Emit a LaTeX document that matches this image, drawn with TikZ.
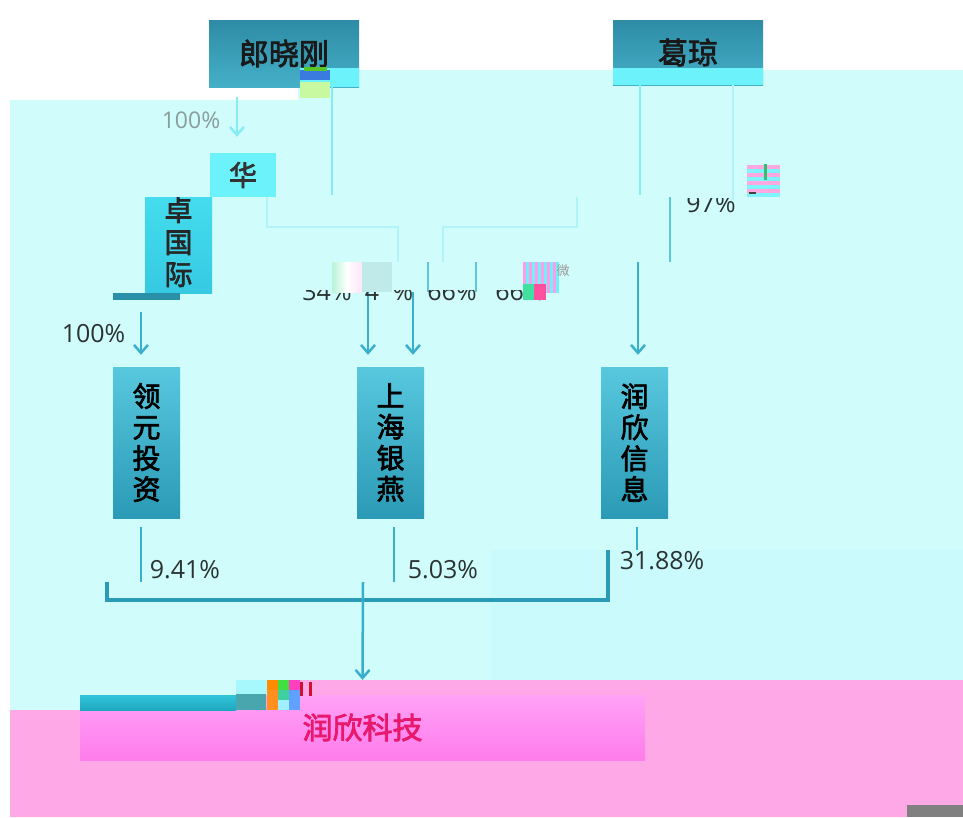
\documentclass[tikz,border=0pt]{standalone}
\usepackage{fontspec}
\newfontfamily\cjk[FakeBold=2.5]{Noto Sans CJK SC}
\newfontfamily\cjkr{Noto Sans CJK SC}
\newfontfamily\labf{Open Sans}
\usetikzlibrary{arrows.meta}
\definecolor{cyanbg}{HTML}{D0FCFC}
\definecolor{cyanbgb}{HTML}{CAFAFC}
\definecolor{pinkbg}{HTML}{FFA8E8}
\definecolor{teal1}{HTML}{3AAFCB}
\definecolor{teal2}{HTML}{2A9AB6}
\definecolor{tealmid}{HTML}{5CC8DE}
\definecolor{lightln}{HTML}{86ECF6}
\definecolor{paleln}{HTML}{B2F3F8}
\definecolor{brcyan}{HTML}{6CF2FA}
\definecolor{labgray}{HTML}{2A3232}
\definecolor{toptop}{HTML}{2E8BA5}
\definecolor{topbot}{HTML}{45B0C8}
\definecolor{vtop}{HTML}{58C8DF}
\definecolor{vbot}{HTML}{2A9AB6}
\definecolor{gblue}{HTML}{3A7BE0}
\definecolor{ggreen}{HTML}{58C828}
\definecolor{gpale}{HTML}{C8F8A0}
\definecolor{ztop}{HTML}{44DCEE}
\definecolor{zbot}{HTML}{36CAE2}
\definecolor{zbar}{HTML}{2A8FA8}
\definecolor{ktop}{HTML}{FFA2F6}
\definecolor{kbot}{HTML}{FF7CEC}
\definecolor{ktext}{HTML}{E8186C}
\definecolor{btop}{HTML}{30C4DA}
\definecolor{bbot}{HTML}{1FA8C0}
\definecolor{gc1}{HTML}{A6F8FC}
\definecolor{gc2}{HTML}{4AA6AE}
\definecolor{r1}{HTML}{FF8C00}
\definecolor{r2}{HTML}{40E040}
\definecolor{r3}{HTML}{FF40C0}
\definecolor{r4}{HTML}{FF9020}
\definecolor{r5}{HTML}{40D0A0}
\definecolor{r6}{HTML}{60A0FF}
\definecolor{r7}{HTML}{A0F0FF}
\definecolor{rred}{HTML}{D01030}
\definecolor{lgray}{HTML}{8A9C9C}
\definecolor{ga}{HTML}{B8F4D8}
\definecolor{gb}{HTML}{FFE4F6}
\definecolor{gcc}{HTML}{C0EAEA}
\definecolor{spk}{HTML}{FF9CE8}
\definecolor{scy}{HTML}{70F0F8}
\definecolor{sgr}{HTML}{40E0A0}
\definecolor{smg}{HTML}{FF50A0}
\definecolor{tpk}{HTML}{FFA8E0}
\definecolor{tcy}{HTML}{80F4FA}
\definecolor{tgr}{HTML}{30C070}
\definecolor{tdk}{HTML}{404040}
\begin{document}
\begin{tikzpicture}[x=1pt,y=-1pt,
  toph/.style={rectangle, inner sep=0pt, minimum width=150pt, minimum height=67pt,
    top color=toptop, bottom color=topbot, font=\cjk\fontsize{30}{30}\selectfont, text=black!90},
  vbox/.style={rectangle, inner sep=0pt, minimum width=67pt, minimum height=151pt,
    top color=vtop, bottom color=vbot, font=\cjk\fontsize{28}{31}\selectfont, align=center, text=black},
  pct/.style={font=\labf\fontsize{25}{25}\selectfont, text=labgray, inner sep=0pt},
  ln/.style={draw=teal1, line width=2.5pt},
  lt/.style={draw=lightln, line width=2.5pt},
  pl/.style={draw=paleln, line width=2.5pt},
  md/.style={draw=tealmid, line width=2.5pt},
  brk/.style={draw=teal2, line width=4pt},
  arr/.style={-{Straight Barb[length=8pt,width=14pt]}}]
\useasboundingbox (0,0) rectangle (963,817);
% background regions
\fill[white] (0,0) rectangle (963,817);
\fill[cyanbg] (10,100) rectangle (963,710);
\fill[cyanbg] (298,70) rectangle (963,100);
\fill[cyanbgb] (490,550) rectangle (963,680);
\fill[pinkbg] (300,680) rectangle (963,817);
\fill[pinkbg] (10,710) rectangle (963,817);
\fill[black!50] (907,805) rectangle (963,817);

% top person boxes
\node[toph] (lang) at (284,53.5) {郎晓刚};
\fill[brcyan] (300,68) rectangle (359,87);
\fill[gblue] (300,70) rectangle (330,80);
\fill[ggreen] (304,67) rectangle (327,71);
\fill[gpale] (300,82) rectangle (330,98);
\node[toph, minimum height=65pt] (ge) at (688,52.5) {葛琼};
\fill[brcyan] (613,68) rectangle (763,85);

% intermediate holding
\node[rectangle, fill=brcyan, minimum width=66pt, minimum height=44pt, inner sep=0pt,
  font=\cjk\fontsize{28}{28}\selectfont, text=black!80] (hua) at (243,175) {\raisebox{-7pt}{华}};
\node[rectangle, top color=ztop, bottom color=zbot, minimum width=67pt,
  minimum height=96pt, inner sep=0pt, font=\cjk\fontsize{28}{32}\selectfont, align=center,
  text=black!85] (zhuo) at (178.5,245) {\raisebox{8pt}{卓}\\\raisebox{8pt}{国}\\\raisebox{8pt}{际}};
\fill[cyanbg] (145,180) rectangle (209,196.5);
\fill[zbar] (113,293) rectangle (180,300);

% companies
\node[vbox] (ly) at (146.5,442.5) {领\\元\\投\\资};
\node[vbox] (sh) at (390.5,442.5) {上\\海\\银\\燕};
\node[vbox] (rx) at (634.5,442.5) {润\\欣\\信\\息};
\node[rectangle, top color=ktop, bottom color=kbot, minimum width=565pt,
  minimum height=65pt, inner sep=0pt, font=\cjk\fontsize{30}{30}\selectfont,
  text=ktext] (kj) at (362.5,727.5) {润欣科技};
\fill[top color=btop, bottom color=bbot] (80,695) rectangle (236,710);
\fill[gc1] (236,680) rectangle (268,694);
\fill[gc2] (236,694) rectangle (266,710);
\fill[r1] (267,680) rectangle (278,690);
\fill[r2] (278,680) rectangle (289,690);
\fill[r3] (289,680) rectangle (300,690);
\fill[r4] (267,690) rectangle (278,710);
\fill[r5] (278,690) rectangle (289,700);
\fill[r6] (289,690) rectangle (300,710);
\fill[r7] (278,700) rectangle (289,710);
\fill[rred] (300,682) rectangle (303,696);
\fill[rred] (309,682) rectangle (312,696);

% upper connectors
\draw[lt, arr] ([xshift=-47pt,yshift=-10pt]lang.south) -- ([xshift=-6pt,yshift=16pt]hua.north);
\node[font=\labf\fontsize{23}{23}\selectfont, text=lgray, inner sep=0pt] (p100a) at (191,120) {100\%};
\draw[lt] ([xshift=48pt]lang.south) -- ++(0,108);
\coordinate (ja) at (398,262);
\coordinate (jb) at (443,262);
\draw[pl] ([xshift=24pt]hua.south) |- (398,227) -- (ja);
\draw[pl] (jb) |- (577,227) -- (577,197);
\draw[lt] ([xshift=-48pt]ge.south) -- ++(0,110);
\draw[pl] ([xshift=45pt]ge.south) -- ++(0,115);
\coordinate (jc) at (670,197);
\coordinate (jd) at (670,262);
\draw[md] (jc) -- (jd);
\draw[md] (428,262) -- (428,292);
\draw[md] (476,262) -- (476,292);
\draw[ln, arr] (638,262) -- ([xshift=3.5pt,yshift=12pt]rx.north);
\coordinate (s1) at (368,292);
\coordinate (s2) at (413,292);
\draw[ln, arr] (s1) -- ([xshift=-22.5pt,yshift=12pt]sh.north);
\draw[ln, arr] (s2) -- ([xshift=22.5pt,yshift=12pt]sh.north);
\coordinate (z1) at (141,312);
\draw[ln, arr] (z1) -- ([xshift=-5.5pt,yshift=12pt]ly.north);
\node[pct] (p100b) at (93.5,334) {100\%};

% clipped labels (glitched row)
\begin{scope}
\clip (290,290.5) rectangle (560,310);
\node[pct] (p34) at (327,292) {34\%};
\node[pct] (p4) at (372,292) {4};
\node[pct] (p4b) at (403,292) {\%};
\node[pct] (p66a) at (452,292) {66\%};
\node[pct] (p66b) at (520,292) {66\%};
\end{scope}
\begin{scope}
\clip (670,198.5) rectangle (760,220);
\node[pct] (p97) at (711,204) {97\%};
\end{scope}
% glitch blocks
\shade[left color=ga, right color=gb, middle color=white] (332,262) rectangle (362,292);
\fill[gcc] (362,262) rectangle (392,292);
\foreach \i in {0,1,2,3,4,5} {
  \fill[spk] (523+\i*6,262) rectangle (526+\i*6,293);
  \fill[scy] (526+\i*6,262) rectangle (529+\i*6,293);
}
\fill[sgr] (523,284) rectangle (534,300);
\fill[smg] (534,284) rectangle (546,300);
\node[font=\cjkr\fontsize{13}{13}\selectfont, text=black!40, inner sep=0pt] (wei) at (563,271) {微};
\foreach \i in {0,1,2,3} {
  \fill[tpk] (747,165+\i*8) rectangle (780,169+\i*8);
  \fill[tcy] (747,169+\i*8) rectangle (780,173+\i*8);
}
\fill[tgr] (764,164) rectangle (767,180);
\fill[tdk] (749,192) rectangle (756,194);

% lower connectors
\draw[ln] ([xshift=-5.5pt,yshift=-9pt]ly.south) -- ++(0,55);
\draw[ln] ([xshift=3.5pt,yshift=-9pt]sh.south) -- ++(0,55);
\draw[ln] ([xshift=2.5pt,yshift=-9pt]rx.south) -- ++(0,23);
\coordinate (bl) at (107,582);
\coordinate (br) at (608,550);
\draw[brk] (bl) |- (608,600) -- (br);
\coordinate (bc) at (363,582);
\draw[ln, arr] (bc) -- ([yshift=15pt]kj.north);
\node[pct] (p941) at (185,570) {9.41\%};
\node[pct] (p503) at (443,570) {5.03\%};
\node[pct] (p3188) at (662,561) {31.88\%};
\end{tikzpicture}
\end{document}
